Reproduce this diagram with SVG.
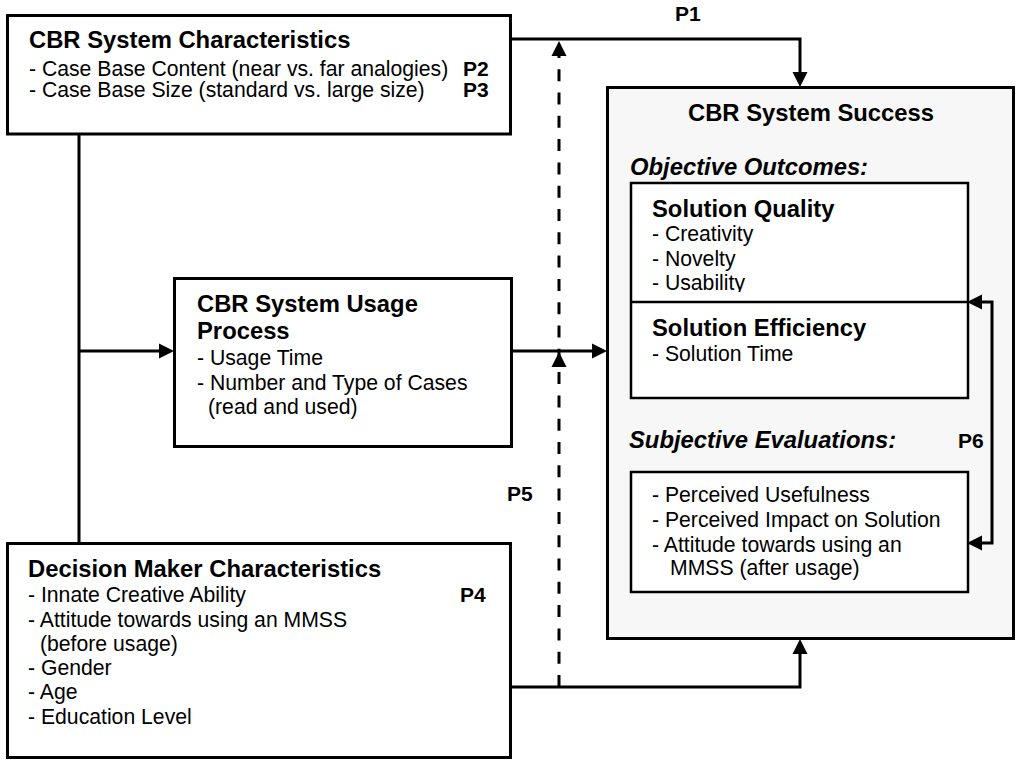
<svg xmlns="http://www.w3.org/2000/svg" width="1018" height="760" viewBox="0 0 1018 760">
  <style>
    text { font-family: "Liberation Sans", Arial, sans-serif; fill: #000; }
    .t { font-size: 23.8px; font-weight: bold; }
    .ti { font-size: 23.8px; font-weight: bold; font-style: italic; }
    .i { font-size: 21.2px; }
    .p { font-size: 21px; font-weight: bold; }
    .box { fill: #fff; stroke: #000; stroke-width: 3; }
    .outer { fill: #f7f7f7; stroke: #000; stroke-width: 3; }
    .inner { fill: #fff; stroke: #000; stroke-width: 2.5; }
    .line { fill: none; stroke: #000; stroke-width: 3; }
    .dash { fill: none; stroke: #000; stroke-width: 3; stroke-dasharray: 12 11.3; }
  </style>
  <defs>
    <marker id="arrow" markerUnits="userSpaceOnUse" markerWidth="15" markerHeight="15" refX="0" refY="7.5" orient="auto-start-reverse" overflow="visible">
      <path d="M0,0 L15,7.5 L0,15 Z" fill="#000"/>
    </marker>
    <clipPath id="qualityClip">
      <rect x="631" y="183" width="337" height="109"/>
    </clipPath>
  </defs>

  <rect width="1018" height="760" fill="#fff"/>

  <!-- CBR System Characteristics -->
  <g id="cbr-characteristics">
    <rect class="box" x="7.5" y="15.5" width="503" height="118.5"/>
    <text class="t" x="29" y="48">CBR System Characteristics</text>
    <text class="i" x="29" y="76">- Case Base Content (near vs. far analogies)</text>
    <text class="p" x="463" y="76">P2</text>
    <text class="i" x="29" y="97">- Case Base Size (standard vs. large size)</text>
    <text class="p" x="463" y="97">P3</text>
  </g>

  <!-- CBR System Usage Process -->
  <g id="usage-process">
    <rect class="box" x="174.5" y="278.5" width="337" height="168"/>
    <text class="t" x="197" y="312">CBR System Usage</text>
    <text class="t" x="197" y="339">Process</text>
    <text class="i" x="197" y="365">- Usage Time</text>
    <text class="i" x="197" y="390">- Number and Type of Cases</text>
    <text class="i" x="208" y="414">(read and used)</text>
  </g>

  <!-- Decision Maker Characteristics -->
  <g id="decision-maker">
    <rect class="box" x="7.5" y="543.5" width="503" height="214"/>
    <text class="t" x="28" y="577">Decision Maker Characteristics</text>
    <text class="i" x="28" y="602">- Innate Creative Ability</text>
    <text class="p" x="460" y="602">P4</text>
    <text class="i" x="28" y="627">- Attitude towards using an MMSS</text>
    <text class="i" x="40" y="651">(before usage)</text>
    <text class="i" x="28" y="675">- Gender</text>
    <text class="i" x="28" y="699">- Age</text>
    <text class="i" x="28" y="724">- Education Level</text>
  </g>

  <!-- CBR System Success -->
  <g id="system-success">
    <rect class="outer" x="607.5" y="87.5" width="406" height="551"/>
    <text class="t" x="811" y="121" text-anchor="middle">CBR System Success</text>
    <text class="ti" x="630" y="175">Objective Outcomes:</text>
    <rect class="inner" x="631" y="183" width="337" height="215"/>
    <g clip-path="url(#qualityClip)">
      <text class="t" x="652" y="217">Solution Quality</text>
      <text class="i" x="652" y="241">- Creativity</text>
      <text class="i" x="652" y="266">- Novelty</text>
      <text class="i" x="652" y="290">- Usability</text>
    </g>
    <line x1="631" y1="302" x2="968" y2="302" stroke="#000" stroke-width="2.5"/>
    <text class="t" x="652" y="336">Solution Efficiency</text>
    <text class="i" x="652" y="361">- Solution Time</text>
    <text class="ti" x="629" y="448">Subjective Evaluations:</text>
    <text class="p" x="958" y="448">P6</text>
    <rect class="inner" x="631" y="472" width="337" height="120"/>
    <text class="i" x="652" y="502">- Perceived Usefulness</text>
    <text class="i" x="652" y="527">- Perceived Impact on Solution</text>
    <text class="i" x="652" y="552">- Attitude towards using an</text>
    <text class="i" x="670" y="575">MMSS (after usage)</text>
  </g>

  <!-- connectors -->
  <g id="connectors">
    <!-- P1: system characteristics to success -->
    <path class="line" d="M511,39 H800 V72" marker-end="url(#arrow)"/>
    <!-- trunk between characteristics boxes -->
    <path class="line" d="M79,134 V543"/>
    <path class="line" d="M79,351 H159" marker-end="url(#arrow)"/>
    <!-- usage process to success -->
    <path class="line" d="M512,351 H592" marker-end="url(#arrow)"/>
    <!-- decision maker to success -->
    <path class="line" d="M511,687 H800 V654" marker-end="url(#arrow)"/>
    <!-- P5 moderating (dashed) -->
    <path class="dash" d="M559,687 V56"/>
    <path d="M551.5,56 L559,41 L566.5,56 Z" fill="#000"/>
    <path d="M551.5,367 L559,352 L566.5,367 Z" fill="#000"/>
    <!-- P6 between objective and subjective outcomes -->
    <path class="line" d="M982,302 H992 V543 H982" marker-start="url(#arrow)" marker-end="url(#arrow)"/>
  </g>

  <!-- proposition labels -->
  <g id="labels">
    <text class="p" x="675" y="21">P1</text>
    <text class="p" x="507" y="501">P5</text>
  </g>
</svg>
